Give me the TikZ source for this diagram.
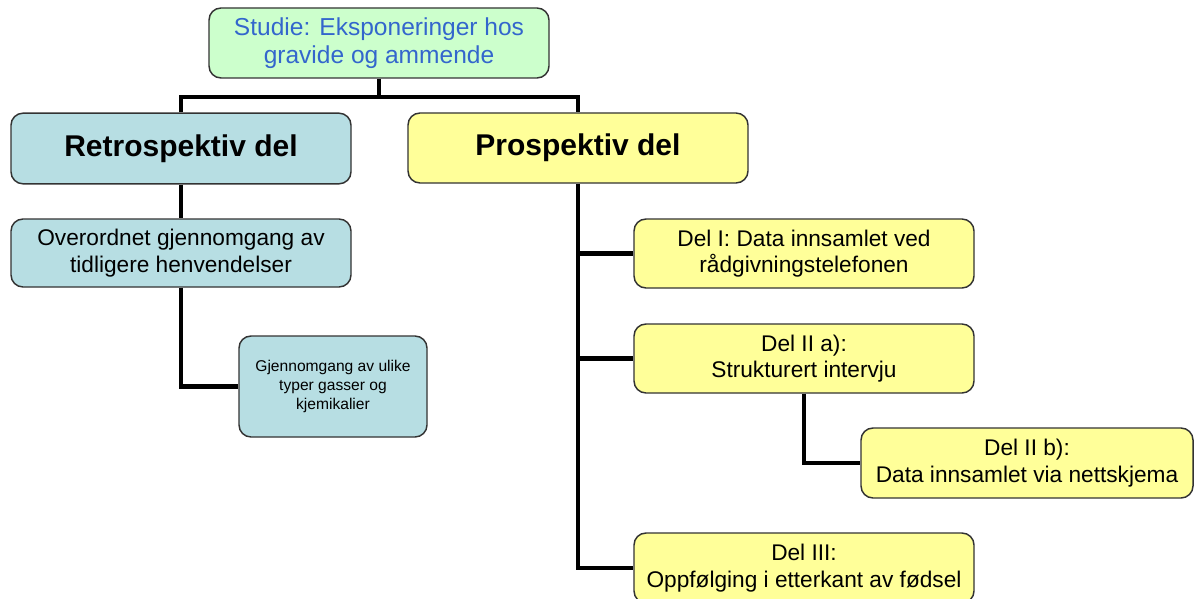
\documentclass[tikz,border=0pt]{standalone}
\usepackage{fontspec}
\setmainfont{Liberation Sans}
\definecolor{topfill}{HTML}{CCFFCC}
\definecolor{topText}{HTML}{3366CC}
\definecolor{retrofill}{HTML}{B7DEE3}
\definecolor{prospfill}{HTML}{FFFF99}
\definecolor{boxline}{HTML}{333333}
\begin{document}
\begin{tikzpicture}[x=0.75pt,y=-0.75pt,
  box/.style={draw=boxline, line width=1.1pt, rounded corners=9pt, align=center, inner sep=2pt},
  conn/.style={line width=3.6pt, black},
  bigtxt/.style={font=\fontsize{22.5}{26}\selectfont\bfseries},
  midtxt/.style={font=\fontsize{17}{20}\selectfont},
  smalltxt/.style={font=\fontsize{11.7}{14.2}\selectfont}
]
\useasboundingbox (0,0) rectangle (1195,599);
\fill[white] (0,0) rectangle (1195,599);

\node[box, fill=topfill, text=topText, minimum width=255pt, minimum height=52.5pt,
  font=\fontsize{18.4}{21.5}\selectfont] (top) at (379,43)
  {Studie: Eksponeringer hos\\gravide og ammende};

\node[box, fill=retrofill, bigtxt, minimum width=255pt, minimum height=53pt] (retro) at (181,148.5) {Retrospektiv del};
\node[box, fill=prospfill, bigtxt, minimum width=255pt, minimum height=52.5pt] (prosp) at (578,148) {Prospektiv del};

\node[box, fill=retrofill, midtxt, minimum width=255pt, minimum height=51pt] (over) at (181,253)
  {Overordnet gjennomgang av\\tidligere henvendelser};
\node[box, fill=retrofill, smalltxt, minimum width=141pt, minimum height=75.75pt] (gj) at (333,386.5)
  {Gjennomgang av ulike\\typer gasser og\\kjemikalier};

\node[box, fill=prospfill, midtxt, minimum width=255pt, minimum height=51.75pt] (d1) at (804,253.5)
  {Del I: Data innsamlet ved\\rådgivningstelefonen};
\node[box, fill=prospfill, midtxt, minimum width=255pt, minimum height=51.75pt] (d2a) at (804,358.5)
  {Del II a):\\Strukturert intervju};
\node[box, fill=prospfill, midtxt, minimum width=249pt, minimum height=52.5pt] (d2b) at (1027,463)
  {Del II b):\\Data innsamlet via nettskjema};
\node[box, fill=prospfill, midtxt, minimum width=255pt, minimum height=52.5pt] (d3) at (804,568)
  {Del III:\\Oppfølging i etterkant av fødsel};

\coordinate (hy) at (0,97);
\draw[conn] (top.south) -- (top.south |- hy);
\draw[conn] (retro.north) -- (retro.north |- hy) -| (prosp.north);
\draw[conn] (retro.south) -- (over.north);
\draw[conn] (over.south) |- (gj.west);
\draw[conn] (prosp.south) |- (d3.west);
\draw[conn] (prosp.south |- d1.west) -- (d1.west);
\draw[conn] (prosp.south |- d2a.west) -- (d2a.west);
\draw[conn] (d2a.south) |- (d2b.west);
\end{tikzpicture}
\end{document}
